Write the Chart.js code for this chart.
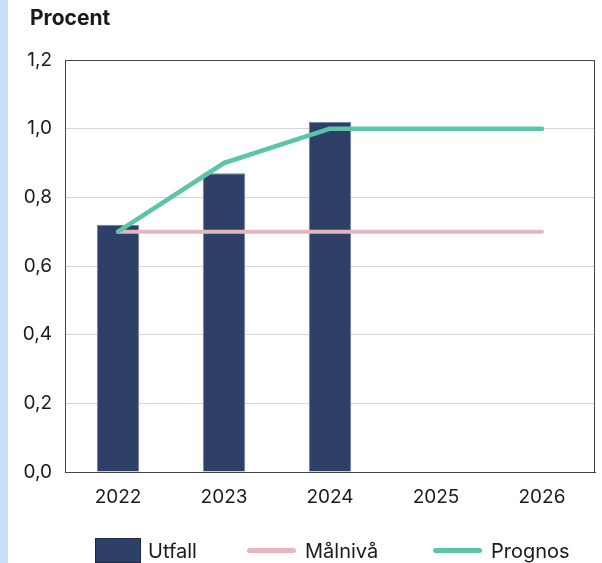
<!DOCTYPE html>
<html>
<head>
<meta charset="utf-8">
<script src="https://cdn.jsdelivr.net/npm/chart.js@4/dist/chart.umd.min.js"></script>
<style>
  html, body { margin: 0; padding: 0; background: #ffffff; overflow: hidden; }
  #wrap { position: relative; width: 602px; height: 563px; overflow: hidden; font-family: Inter, "Noto Sans", sans-serif; color: #1a1a1a; }
  #strip { position: absolute; left: 0; top: 0; width: 8px; height: 563px; background: #c6e1f7; }
  #cv { position: absolute; left: 0; top: 0; }
  #title { position: absolute; left: 30px; top: 5px; font-size: 21px; font-weight: 700; line-height: 26px; white-space: nowrap; }
  .lg-item { position: absolute; top: 538px; height: 25px; display: flex; align-items: center; white-space: nowrap; font-size: 20px; }
  .lg-box { width: 46px; height: 25px; box-sizing: border-box; border: 1px solid #1d2a48; margin-right: 7px; }
  .lg-line { width: 49px; height: 4.5px; border-radius: 3px; margin-right: 9px; }
</style>
</head>
<body>
<div id="wrap">
  <div id="strip"></div>
  <canvas id="cv" width="602" height="563"></canvas>
  <div id="title"></div>
  <div id="legend"></div>
</div>
<script>
const categories = ['2022', '2023', '2024', '2025', '2026'];
const utfall = [0.72, 0.87, 1.02, null, null];
const malniva = [0.7, 0.7, 0.7, 0.7, 0.7];
const prognos = [0.7, 0.9, 1.0, 1.0, 1.0];
const yTickLabels = ['0,0', '0,2', '0,4', '0,6', '0,8', '1,0', '1,2'];
const seriesNames = ['Utfall', 'Målnivå', 'Prognos'];
const titleText = 'Procent';

const BAR = '#2f4068';
const BAR_EDGE = '#7080a0';
const PINK = '#e4b7c0';
const GREEN = '#5cc4a9';
const FONT = 'Inter, "Noto Sans", sans-serif';

document.getElementById('title').textContent = titleText;

const framePlugin = {
  id: 'frame',
  afterDatasetsDraw(chart) {
    const a = chart.chartArea, c = chart.ctx;
    c.save();
    c.strokeStyle = '#444';
    c.lineWidth = 1;
    c.strokeRect(Math.round(a.left) + 0.5, Math.round(a.top) + 0.5, Math.round(a.right - a.left) - 1, Math.round(a.bottom - a.top));
    c.restore();
  }
};

const chart = new Chart(document.getElementById('cv'), {
  type: 'bar',
  data: {
    labels: categories,
    datasets: [
      { type: 'bar', label: seriesNames[0], data: utfall, backgroundColor: BAR, borderColor: BAR_EDGE, borderWidth: 1, borderSkipped: 'start', barPercentage: 0.4, categoryPercentage: 1.0, order: 2 },
      { type: 'line', label: seriesNames[1], data: malniva, borderColor: PINK, backgroundColor: PINK, borderWidth: 4, pointRadius: 0, tension: 0, borderCapStyle: 'round', order: 1 },
      { type: 'line', label: seriesNames[2], data: prognos, borderColor: GREEN, backgroundColor: GREEN, borderWidth: 4.5, pointRadius: 0, tension: 0, borderCapStyle: 'round', borderJoinStyle: 'round', order: 0 }
    ]
  },
  options: {
    responsive: false,
    animation: false,
    devicePixelRatio: 1,
    layout: { padding: { left: 10, right: 7, top: 60, bottom: 51 } },
    plugins: {
      tooltip: { enabled: false },
      title: { display: false },
      legend: { display: false }
    },
    scales: {
      x: {
        grid: { display: false, drawTicks: false },
        border: { display: true, color: '#444', width: 1 },
        ticks: { color: '#1a1a1a', padding: 14, font: { family: FONT, size: 19 } },
        afterFit(s) { s.height = 40; }
      },
      y: {
        min: 0, max: 1.2,
        grid: { color: '#d6d6d6', lineWidth: 1, drawTicks: false },
        border: { display: true, color: '#444', width: 1 },
        ticks: {
          stepSize: 0.2, padding: 13, color: '#1a1a1a',
          font: { family: FONT, size: 19 },
          callback: (v) => yTickLabels[Math.round(v / 0.2)]
        },
        afterFit(s) { s.width = 55; }
      }
    }
  },
  plugins: [framePlugin]
});

// HTML legend built from the chart's datasets
const legendLeft = [95, 247, 433];
const legendEl = document.getElementById('legend');
chart.data.datasets.forEach((ds, i) => {
  const item = document.createElement('div');
  item.className = 'lg-item';
  item.style.left = legendLeft[i] + 'px';
  const sw = document.createElement('span');
  if (ds.type === 'bar') {
    sw.className = 'lg-box';
    sw.style.background = ds.backgroundColor;
  } else {
    sw.className = 'lg-line';
    sw.style.background = ds.borderColor;
  }
  const tx = document.createElement('span');
  tx.textContent = ds.label;
  item.appendChild(sw);
  item.appendChild(tx);
  legendEl.appendChild(item);
});
</script>
</body>
</html>
